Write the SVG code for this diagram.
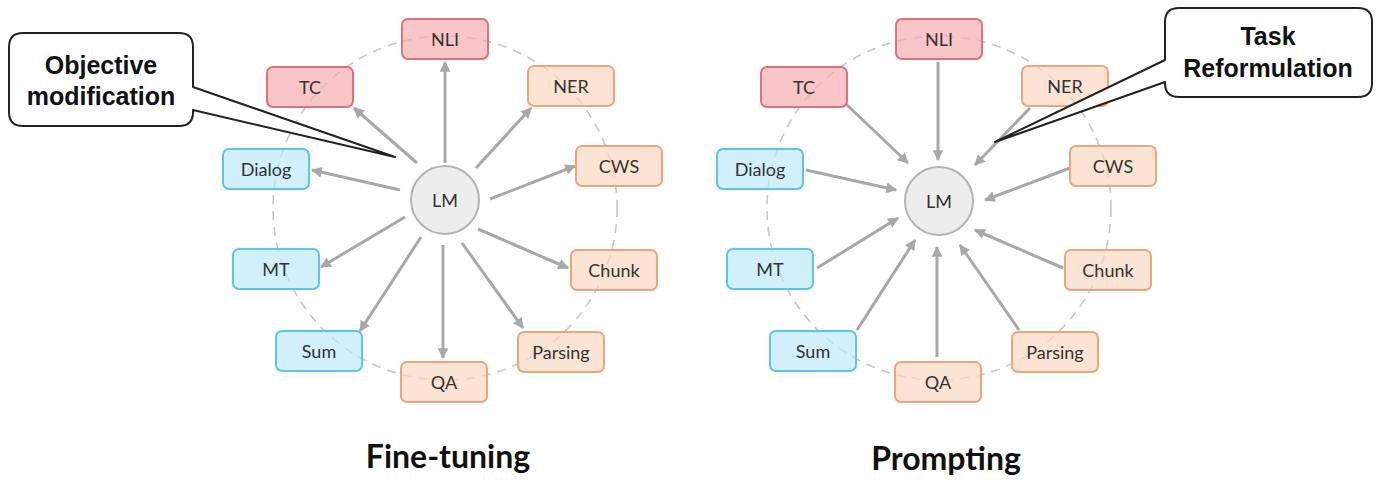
<svg xmlns="http://www.w3.org/2000/svg" width="1382" height="480" viewBox="0 0 1382 480">
<defs>
<style>
.node rect{fill-opacity:0.7;stroke-width:2}
.red rect{fill:#f5aeb1;stroke:#e36f77}
.blue rect{fill:#bde9fa;stroke:#5cc5ef}
.orange rect{fill:#fbd9c2;stroke:#eca67c}
.node text,.lm text{font-family:Lato,"Open Sans",sans-serif;font-size:18px;fill:#333;text-anchor:middle;dominant-baseline:central}
.lm circle{fill:#ededed;stroke:#b3b3b3;stroke-width:2}
.ring{fill:none;stroke:#c8c8c8;stroke-width:1.6;stroke-dasharray:9 7}
.conn line{stroke:#a8a8a8;stroke-width:3;marker-end:url(#ah)}
.callout path{fill:#fff;stroke:#222;stroke-width:2;stroke-linejoin:round}
.callout text{font-family:"Liberation Sans",Arial,sans-serif;font-weight:bold;font-size:25px;fill:#111;text-anchor:middle}
.title{font-family:Lato,"Open Sans",sans-serif;font-weight:bold;font-size:32px;fill:#111;text-anchor:middle}
</style>
<marker id="ah" viewBox="0 0 10 10" refX="9" refY="5" markerWidth="4" markerHeight="3.6" orient="auto" markerUnits="strokeWidth">
<path d="M0 0 L10 5 L0 10 Z" fill="#a8a8a8"/>
</marker>
</defs>
<rect width="1382" height="480" fill="#fff"/>

<!-- Left: Fine-tuning -->
<circle class="ring" cx="445" cy="208" r="172"/>
<g id="conn-left" class="conn">
<line x1="445" y1="163" x2="445" y2="62"/>
<line x1="417" y1="163" x2="354" y2="108"/>
<line x1="476" y1="168" x2="531" y2="108"/>
<line x1="400" y1="190" x2="312" y2="170"/>
<line x1="490" y1="199" x2="575" y2="166"/>
<line x1="405" y1="217" x2="321" y2="267"/>
<line x1="478" y1="229" x2="568" y2="268"/>
<line x1="421" y1="237" x2="360" y2="331"/>
<line x1="443" y1="245" x2="443" y2="358"/>
<line x1="462" y1="243" x2="523" y2="328"/>
</g>
<g id="L-LM" class="lm"><circle cx="445" cy="200" r="34"/><text x="445" y="200">LM</text></g>
<g id="L-NLI" class="node red"><rect x="402" y="19" width="86" height="40" rx="6"/><text x="445" y="39">NLI</text></g>
<g id="L-TC" class="node red"><rect x="267" y="67" width="86" height="40" rx="6"/><text x="310" y="87">TC</text></g>
<g id="L-NER" class="node orange"><rect x="528" y="66" width="86" height="40" rx="6"/><text x="571" y="86">NER</text></g>
<g id="L-Dialog" class="node blue"><rect x="223" y="149" width="86" height="40" rx="6"/><text x="266" y="169">Dialog</text></g>
<g id="L-CWS" class="node orange"><rect x="576" y="146" width="86" height="40" rx="6"/><text x="619" y="166">CWS</text></g>
<g id="L-MT" class="node blue"><rect x="233" y="249" width="86" height="40" rx="6"/><text x="276" y="269">MT</text></g>
<g id="L-Chunk" class="node orange"><rect x="571" y="250" width="86" height="40" rx="6"/><text x="614" y="270">Chunk</text></g>
<g id="L-Sum" class="node blue"><rect x="276" y="331" width="86" height="40" rx="6"/><text x="319" y="351">Sum</text></g>
<g id="L-Parsing" class="node orange"><rect x="518" y="332" width="86" height="40" rx="6"/><text x="561" y="352">Parsing</text></g>
<g id="L-QA" class="node orange"><rect x="401" y="362" width="86" height="40" rx="6"/><text x="444" y="382">QA</text></g>
<g id="callout-left" class="callout">
<path d="M23 33 H179 Q193 33 193 47 V87 L395 157 L193 110 V112 Q193 126 179 126 H23 Q9 126 9 112 V47 Q9 33 23 33 Z"/>
<text x="101" y="74">Objective</text>
<text x="101" y="105">modification</text>
</g>
<text class="title" x="448" y="468">Fine-tuning</text>

<!-- Right: Prompting -->
<circle class="ring" cx="939" cy="208" r="172"/>
<g id="conn-right" class="conn">
<line x1="938" y1="62" x2="938" y2="160"/>
<line x1="846" y1="104" x2="908" y2="163"/>
<line x1="1030" y1="108" x2="975" y2="165"/>
<line x1="806" y1="170" x2="896" y2="190"/>
<line x1="1070" y1="168" x2="985" y2="200"/>
<line x1="817" y1="268" x2="898" y2="218"/>
<line x1="1063" y1="268" x2="975" y2="230"/>
<line x1="1019" y1="330" x2="960" y2="245"/>
<line x1="937" y1="357" x2="937" y2="247"/>
<line x1="857" y1="330" x2="915" y2="240"/>
</g>
<g id="R-LM" class="lm"><circle cx="939" cy="201" r="34"/><text x="939" y="201">LM</text></g>
<g id="R-NLI" class="node red"><rect x="896" y="19" width="86" height="40" rx="6"/><text x="939" y="39">NLI</text></g>
<g id="R-TC" class="node red"><rect x="761" y="67" width="86" height="40" rx="6"/><text x="804" y="87">TC</text></g>
<g id="R-NER" class="node orange"><rect x="1022" y="66" width="86" height="40" rx="6"/><text x="1065" y="86">NER</text></g>
<g id="R-Dialog" class="node blue"><rect x="717" y="149" width="86" height="40" rx="6"/><text x="760" y="169">Dialog</text></g>
<g id="R-CWS" class="node orange"><rect x="1070" y="146" width="86" height="40" rx="6"/><text x="1113" y="166">CWS</text></g>
<g id="R-MT" class="node blue"><rect x="727" y="249" width="86" height="40" rx="6"/><text x="770" y="269">MT</text></g>
<g id="R-Chunk" class="node orange"><rect x="1065" y="250" width="86" height="40" rx="6"/><text x="1108" y="270">Chunk</text></g>
<g id="R-Sum" class="node blue"><rect x="770" y="331" width="86" height="40" rx="6"/><text x="813" y="351">Sum</text></g>
<g id="R-Parsing" class="node orange"><rect x="1012" y="332" width="86" height="40" rx="6"/><text x="1055" y="352">Parsing</text></g>
<g id="R-QA" class="node orange"><rect x="895" y="362" width="86" height="40" rx="6"/><text x="938" y="382">QA</text></g>
<g id="callout-right" class="callout">
<path d="M1179 8 H1358 Q1372 8 1372 22 V83 Q1372 97 1358 97 H1179 Q1165 97 1165 83 V82 L995 142 L1165 60 V22 Q1165 8 1179 8 Z"/>
<text x="1268" y="45">Task</text>
<text x="1268" y="77">Reformulation</text>
</g>
<text class="title" x="946" y="470">Prompting</text>
</svg>
